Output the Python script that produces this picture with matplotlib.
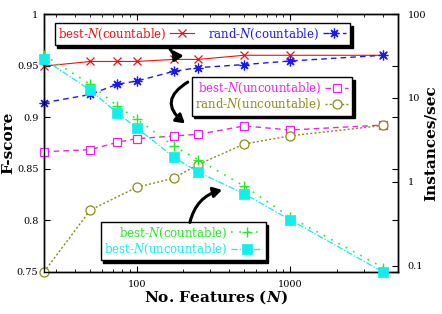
import matplotlib
matplotlib.use("Agg")
import matplotlib.pyplot as plt
from matplotlib.ticker import FixedLocator, FixedFormatter, NullLocator

plt.rcParams["font.family"] = "DejaVu Serif"
plt.rcParams["mathtext.fontset"] = "custom"
plt.rcParams["mathtext.it"] = "DejaVu Serif:italic"
plt.rcParams["mathtext.bf"] = "DejaVu Serif:italic:bold"

# data
features = [25, 50, 75, 100, 175, 250, 500, 1000, 4000]
features_rand_unc = [25, 50, 100, 175, 250, 500, 1000, 4000]

f_best_cnt = [0.9495, 0.954, 0.954, 0.954, 0.956, 0.956, 0.960, 0.960, 0.960]
f_rand_cnt = [0.914, 0.922, 0.932, 0.935, 0.9445, 0.948, 0.951, 0.9545, 0.960]
f_best_unc = [0.8666, 0.8685, 0.8757, 0.8792, 0.8818, 0.8834, 0.8915, 0.8876, 0.8924]
f_rand_unc = [0.750, 0.810, 0.832, 0.841, 0.854, 0.874, 0.882, 0.892]

ips_best_cnt = [32.4, 14.5, 8.0, 5.6, 2.65, 1.84, 0.89, 0.376, 0.095]
ips_best_unc = [28.8, 12.4, 6.6, 4.4, 1.96, 1.31, 0.72, 0.35, 0.084]

fig = plt.figure(figsize=(4.42, 3.14), dpi=100)
ax = fig.add_axes([0.0995, 0.1338, 0.801, 0.8216])
ax2 = ax.twinx()

ms = 6
l1, = ax.plot(features, f_best_cnt, color="#ee1111", lw=0.8, ls="-", marker="x",
              ms=ms, mew=0.9, label="best-$N$(countable)", clip_on=False, zorder=3)
l2, = ax.plot(features, f_rand_cnt, color="#1a1aee", lw=1.0, ls=(0, (4, 3)), marker=(8, 2, 0),
              ms=ms + 1, mew=0.9, label="rand-$N$(countable)", clip_on=False, zorder=3)
l3, = ax.plot(features, f_best_unc, color="#ee22ee", lw=1.0, ls=(0, (4, 3)), marker="s",
              mfc="white", ms=ms, mew=0.9, label="best-$N$(uncountable)", clip_on=False, zorder=3)
l4, = ax.plot(features_rand_unc, f_rand_unc, color="#8c8c1a", lw=1.0, ls=(0, (1.5, 1.5)), marker="o",
              mfc="white", ms=ms + 0.5, mew=0.9, label="rand-$N$(uncountable)", clip_on=False, zorder=3)

l5, = ax2.plot(features, ips_best_cnt, color="#22ee22", lw=1.2, ls=(0, (1, 4)), marker="+",
               ms=ms + 1, mew=1.0, label="best-$N$(countable)", clip_on=False, zorder=3)
l6, = ax2.plot(features, ips_best_unc, color="#11eeee", lw=0.9, ls=(0, (5, 1.5, 1, 1.5)), marker="s",
               ms=ms + 1, mew=0.5, label="best-$N$(uncountable)", clip_on=False, zorder=3)

ax.set_xscale("log")
ax.set_xlim(25, 5000)
ax.set_ylim(0.75, 1.0)
ax.set_yticks([0.75, 0.8, 0.85, 0.9, 0.95, 1.0])
ax.set_yticklabels(["0.75", "0.8", "0.85", "0.9", "0.95", "1"])
ax.set_xticks([100, 1000])
ax.set_xticklabels(["100", "1000"])
ax.tick_params(which="both", direction="in", labelsize=7, top=True, right=True)
ax.tick_params(which="major", length=4, pad=4)
ax.tick_params(which="minor", length=2)
ax.tick_params(axis="x", pad=6)

ax2.set_yscale("log")
ax2.set_ylim(0.084, 100)
ax2.yaxis.set_major_locator(FixedLocator([0.1, 1, 10, 100]))
ax2.yaxis.set_major_formatter(FixedFormatter(["0.1", "1", "10", "100"]))
ax2.yaxis.set_minor_locator(NullLocator())
ax2.tick_params(direction="in", labelsize=7, length=4, pad=7)

for a in (ax, ax2):
    for s in a.spines.values():
        s.set_linewidth(1.0)

ax.set_ylabel("F-score", fontsize=11, fontweight="bold")
ax.yaxis.set_label_coords(-0.08, 0.5)
ax2.set_ylabel("Instances/sec", fontsize=11, fontweight="bold")
ax2.yaxis.set_label_coords(1.072, 0.5)
ax.set_xlabel(r"No. Features ($\mathbf{N}$)", fontsize=11, fontweight="bold")
ax.xaxis.set_label_coords(0.486, -0.064)

shadow = {"color": "black", "alpha": 1.0}
common = dict(markerfirst=False, labelcolor="linecolor", fontsize=8.5, fancybox=False,
              edgecolor="black", framealpha=1, shadow=shadow, borderpad=0.3,
              handlelength=2.0, handletextpad=0.3, labelspacing=0.1, borderaxespad=0)

leg1 = ax2.legend([l1, l2], [l1.get_label(), l2.get_label()], ncol=2, columnspacing=1.2,
                  loc="upper left", bbox_to_anchor=(0.03, 0.965), **common)
leg1.get_frame().set_linewidth(1.0)
ax2.add_artist(leg1)
leg2 = ax2.legend([l3, l4], [l3.get_label(), l4.get_label()],
                  loc="upper right", bbox_to_anchor=(0.87, 0.755), **common)
leg2.get_frame().set_linewidth(1.0)
ax2.add_artist(leg2)
leg3 = ax2.legend([l5, l6], [l5.get_label(), l6.get_label()], handlelength=2.6,
                  loc="lower left", bbox_to_anchor=(0.16, 0.045),
                  **{k: v for k, v in common.items() if k != "handlelength"})
leg3.get_frame().set_linewidth(1.0)

# curved arrows from the boxes to their lines (drawn above the boxes)
arrow = dict(arrowstyle="-|>,head_length=0.5,head_width=0.3", color="black", lw=2.2,
             shrinkA=0, shrinkB=0)
ax2.annotate("", xy=(202, 0.9595), xytext=(162, 0.9685), xycoords=ax.transData,
             textcoords=ax.transData, zorder=10,
             arrowprops=dict(connectionstyle="arc3,rad=0.35", **arrow))
ax2.annotate("", xy=(206, 0.894), xytext=(215, 0.934), xycoords=ax.transData,
             textcoords=ax.transData, zorder=10,
             arrowprops=dict(connectionstyle="arc3,rad=0.7", **arrow))
ax2.annotate("", xy=(359, 0.8295), xytext=(222, 0.798), xycoords=ax.transData,
             textcoords=ax.transData, zorder=10,
             arrowprops=dict(connectionstyle="arc3,rad=-0.3", **arrow))

fig.savefig("out.png", dpi=100)
